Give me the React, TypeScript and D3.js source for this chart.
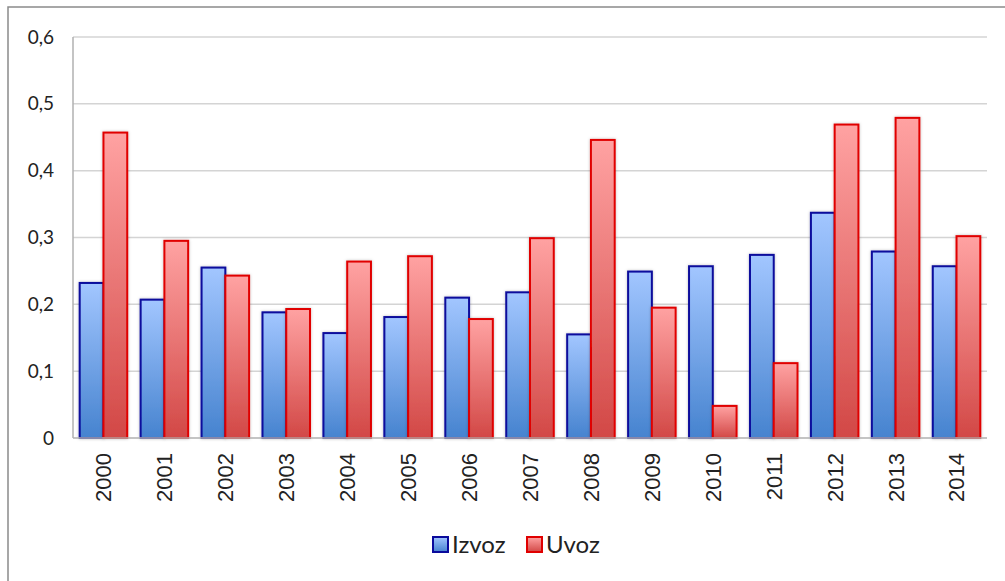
import * as d3 from 'd3';

const years = ['2000', '2001', '2002', '2003', '2004', '2005', '2006', '2007', '2008', '2009', '2010', '2011', '2012', '2013', '2014'];
const izvoz = [0.232, 0.207, 0.255, 0.188, 0.157, 0.181, 0.21, 0.218, 0.155, 0.249, 0.257, 0.274, 0.337, 0.279, 0.257];
const uvoz = [0.457, 0.295, 0.243, 0.193, 0.264, 0.272, 0.178, 0.299, 0.446, 0.195, 0.048, 0.112, 0.469, 0.479, 0.302];
const yTicks = [0, 0.1, 0.2, 0.3, 0.4, 0.5, 0.6];
const seriesNames = ['Izvoz', 'Uvoz'];

const W = 1005;
const H = 581;
const plot = { left: 73, right: 987, top: 37, bottom: 438 };

export default function App() {
  const x = d3.scaleBand<string>()
    .domain(years)
    .range([plot.left, plot.right])
    .paddingInner(0.22)
    .paddingOuter(0.11);
  const xs = d3.scaleBand<string>()
    .domain(seriesNames)
    .range([0, x.bandwidth()]);
  const y = d3.scaleLinear().domain([0, 0.6]).range([plot.bottom, plot.top]);
  const fmt = (v: number) => (v === 0 ? '0' : d3.format('.1f')(v).replace('.', ','));

  const series = [
    { name: 'Izvoz', values: izvoz, grad: 'gBlue', stroke: '#0a0a9c' },
    { name: 'Uvoz', values: uvoz, grad: 'gRed', stroke: '#e00000' },
  ];

  return (
    <svg width={W} height={H} style={{ position: 'absolute', left: 0, top: 0, display: 'block' }}>
      <defs>
        <linearGradient id="gBlue" x1="0" y1="0" x2="0" y2="1">
          <stop offset="0" stopColor="#a2c6ff" />
          <stop offset="1" stopColor="#4683cf" />
        </linearGradient>
        <linearGradient id="gRed" x1="0" y1="0" x2="0" y2="1">
          <stop offset="0" stopColor="#ffa2a2" />
          <stop offset="1" stopColor="#d24846" />
        </linearGradient>
        <filter id="shadow" x="-20%" y="-5%" width="140%" height="110%">
          <feDropShadow dx="0" dy="0" stdDeviation="1.5" floodColor="#000" floodOpacity="0.25" />
        </filter>
      </defs>
      <rect x={0} y={0} width={W} height={H} fill="#fff" />
      {/* outer frame */}
      <rect x={8} y={7} width={W + 10} height={H + 10} fill="none" stroke="#8a8a8a" strokeWidth={1.5} />

      {yTicks.map(t => (
        <g key={t}>
          {t > 0 && (
            <line x1={plot.left} x2={plot.right} y1={y(t)} y2={y(t)} stroke="#d4d4d4" strokeWidth={1.5} />
          )}
          <text x={54} y={y(t)} dy="0.35em" textAnchor="end" fontFamily="Lato, 'Open Sans', sans-serif"
            fontSize={19} fill="#222">{fmt(t)}</text>
        </g>
      ))}
      <line x1={plot.left} x2={plot.left} y1={plot.top} y2={plot.bottom} stroke="#b0b0b0" strokeWidth={1.5} />

      {series.map(s => (
        <g key={s.name}>
          {years.map((yr, i) => (
            <rect key={yr}
              x={(x(yr) ?? 0) + (xs(s.name) ?? 0)}
              y={y(s.values[i])}
              width={xs.bandwidth()}
              height={y(0) - y(s.values[i])}
              fill={`url(#${s.grad})`}
              stroke={s.stroke}
              strokeWidth={2}
              filter="url(#shadow)" />
          ))}
        </g>
      ))}
      <line x1={plot.left} x2={plot.right} y1={plot.bottom} y2={plot.bottom} stroke="#b0b0b0" strokeWidth={1.5} />

      {years.map(yr => {
        const cx = (x(yr) ?? 0) + x.bandwidth() / 2;
        return (
          <text key={yr} transform={`translate(${cx},453) rotate(-90)`} textAnchor="end" dy="0.36em"
            fontFamily="'Liberation Sans', Arial, sans-serif" fontSize={22} fill="#222">{yr}</text>
        );
      })}

      {series.map((s, i) => {
        const lx = i === 0 ? 433 : 527;
        return (
          <g key={s.name}>
            <rect x={lx} y={537} width={15} height={15} fill={`url(#${s.grad})`} stroke={s.stroke} strokeWidth={2} />
            <text x={lx + 19} y={553} fontFamily="Lato, 'Open Sans', sans-serif" fontSize={24} fill="#222">{s.name}</text>
          </g>
        );
      })}
    </svg>
  );
}
